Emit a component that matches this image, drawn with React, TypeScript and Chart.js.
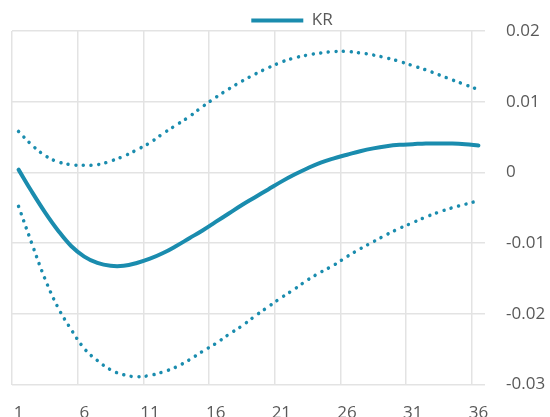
import React, { useEffect, useRef } from "react";
import { Chart, registerables } from "chart.js";

Chart.register(...registerables);

const categories: string[] = Array.from({ length: 36 }, (_, i) => String(i + 1));

const centerValues: number[] = [
  0.0004, -0.0027, -0.0056, -0.0082, -0.0104, -0.0119, -0.0128, -0.0132, -0.0132, -0.0128,
  -0.0122, -0.0114, -0.0104, -0.0093, -0.0082, -0.0070, -0.0058, -0.0046, -0.0035, -0.0024,
  -0.0013, -0.0003, 0.0006, 0.0014, 0.0020, 0.0025, 0.0030, 0.0034, 0.0037, 0.0039,
  0.0040, 0.0041, 0.0041, 0.0041, 0.0040, 0.0038,
];

const upperValues: number[] = [
  0.0058, 0.0039, 0.0024, 0.0015, 0.0011, 0.0010, 0.0011, 0.0016, 0.0023, 0.0032,
  0.0042, 0.0055, 0.0067, 0.0079, 0.0093, 0.0106, 0.0118, 0.0129, 0.0139, 0.0148,
  0.0156, 0.0162, 0.0166, 0.0169, 0.0171, 0.0171, 0.0169, 0.0166, 0.0162, 0.0157,
  0.0151, 0.0145, 0.0138, 0.0131, 0.0124, 0.0117,
];

const lowerValues: number[] = [
  -0.0048, -0.0100, -0.0150, -0.0191, -0.0222, -0.0249, -0.0266, -0.0279, -0.0286, -0.0289,
  -0.0287, -0.0282, -0.0275, -0.0265, -0.0253, -0.0242, -0.0229, -0.0217, -0.0203, -0.0190,
  -0.0177, -0.0165, -0.0152, -0.0141, -0.0131, -0.0119, -0.0108, -0.0098, -0.0088, -0.0079,
  -0.0071, -0.0063, -0.0056, -0.0050, -0.0045, -0.0040,
];

const seriesName = "KR";
const yMin = -0.03;
const yMax = 0.02;
const yStep = 0.01;

const TEAL = "#1a8cae";
const GRID = "#e3e3e3";
const TEXT = "#595959";
const CLEAR = "rgba(0,0,0,0)";
const FONT = "'Open Sans', 'Segoe UI', sans-serif";

export default function App() {
  const ref = useRef<HTMLCanvasElement | null>(null);

  useEffect(() => {
    if (!ref.current) return;

    const legendShift = {
      id: "legendShift",
      afterLayout(chart: any) {
        const lg = chart.legend;
        if (lg) {
          lg.left += 11;
          lg.right += 11;
          lg.top += 8;
          lg.bottom += 8;
        }
      },
    };

    const dotted = {
      borderColor: TEAL,
      backgroundColor: TEAL,
      borderWidth: 3.5,
      borderDash: [0.01, 7.6],
      borderCapStyle: "round" as const,
      pointRadius: 0,
      tension: 0.4,
      fill: false,
    };

    const chart = new Chart(ref.current, {
      type: "line",
      data: {
        labels: categories,
        datasets: [
          { label: "upper", data: upperValues, ...dotted },
          { label: "lower", data: lowerValues, ...dotted },
          {
            label: seriesName,
            data: centerValues,
            borderColor: TEAL,
            backgroundColor: TEAL,
            borderWidth: 4,
            borderCapStyle: "round",
            pointRadius: 0,
            tension: 0.4,
            fill: false,
          },
        ],
      },
      options: {
        responsive: false,
        animation: false,
        layout: { padding: { left: 12, top: 0, right: 0, bottom: 0 } },
        plugins: {
          tooltip: { enabled: false },
          legend: {
            display: true,
            position: "top",
            labels: {
              font: { family: FONT, size: 17 },
              color: TEXT,
              boxWidth: 52,
              boxHeight: 4,
              padding: 4,
              useBorderRadius: true,
              borderRadius: 2,
              generateLabels: () => [
                {
                  text: seriesName,
                  fillStyle: TEAL,
                  strokeStyle: TEAL,
                  lineWidth: 0,
                  fontColor: TEXT,
                  hidden: false,
                  datasetIndex: 2,
                } as any,
              ],
            },
          },
        },
        scales: {
          x: {
            type: "category",
            offset: true,
            border: { display: false },
            grid: {
              offset: true,
              drawTicks: true,
              tickLength: 18,
              tickColor: CLEAR,
              lineWidth: 1.5,
              color: (ctx: any) => (ctx.index % 5 === 0 ? GRID : CLEAR),
            },
            ticks: {
              autoSkip: false,
              maxRotation: 0,
              minRotation: 0,
              padding: 0,
              color: TEXT,
              font: { family: FONT, size: 17 },
              callback: (_v: any, idx: number) => (idx % 5 === 0 ? categories[idx] : ""),
            },
          },
          y: {
            position: "right",
            min: yMin,
            max: yMax,
            border: { display: false },
            afterFit: (scale: any) => {
              scale.width = 65;
            },
            grid: {
              drawTicks: true,
              tickLength: 21,
              tickColor: CLEAR,
              lineWidth: 1.5,
              color: GRID,
            },
            ticks: {
              stepSize: yStep,
              padding: 0,
              color: TEXT,
              font: { family: FONT, size: 17 },
              callback: (v: any) => String(Number(Number(v).toFixed(3))),
            },
          },
        },
      },
      plugins: [legendShift],
    });

    return () => chart.destroy();
  }, []);

  return (
    <div
      style={{
        position: "absolute",
        left: 0,
        top: 0,
        width: 550,
        height: 417,
        overflow: "hidden",
        background: "#ffffff",
      }}
    >
      <canvas ref={ref} width={550} height={423} style={{ width: 550, height: 423, display: "block" }} />
    </div>
  );
}
